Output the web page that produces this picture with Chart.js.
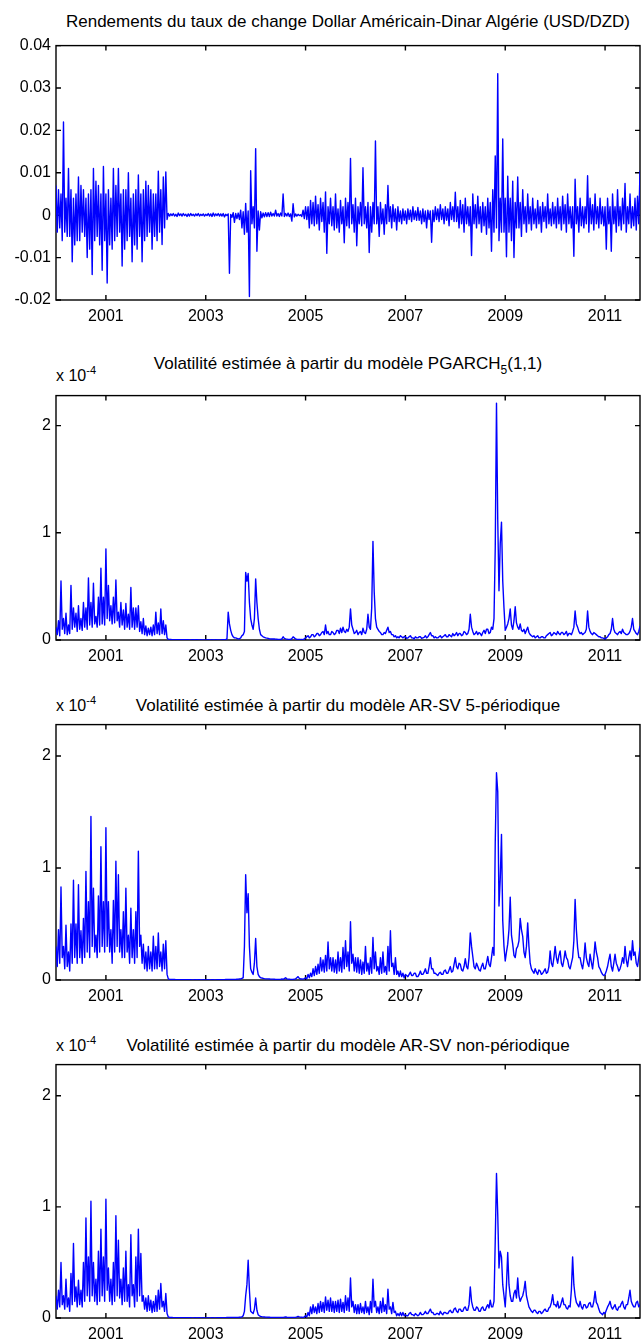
<!DOCTYPE html>
<html lang="fr">
<head>
<meta charset="utf-8">
<title>Rendements et volatilités USD/DZD</title>
<script src="https://cdn.jsdelivr.net/npm/chart.js@4.4.1/dist/chart.umd.min.js"></script>
<style>
  body { margin: 0; background: #fff; width: 642px; height: 1344px; position: relative; overflow: hidden;
         font-family: "Liberation Sans", Arial, sans-serif; color: #000; }
  canvas { position: absolute; left: 0; }
  .titre { position: absolute; left: 56px; width: 584px; text-align: center; font-size: 17px;
           line-height: 20px; white-space: nowrap; }
  .exposant { position: absolute; left: 56px; font-size: 16px; line-height: 18px; white-space: nowrap; }
  .indice { font-size: 12px; position: relative; top: 5px; }
  .puissance { font-size: 11px; position: relative; top: -7px; }
</style>
</head>
<body>

<div class="titre" style="top:12px">Rendements du taux de change Dollar Américain-Dinar Algérie (USD/DZD)</div>
<canvas id="panneau1"></canvas>

<div class="titre" style="top:354px">Volatilité estimée à partir du modèle PGARCH<span class="indice">5</span>(1,1)</div>
<div class="exposant" style="top:367px">x 10<span class="puissance">-4</span></div>
<canvas id="panneau2"></canvas>

<div class="titre" style="top:696px">Volatilité estimée à partir du modèle AR-SV 5-périodique</div>
<div class="exposant" style="top:697px">x 10<span class="puissance">-4</span></div>
<canvas id="panneau3"></canvas>

<div class="titre" style="top:1036px">Volatilité estimée à partir du modèle AR-SV non-périodique</div>
<div class="exposant" style="top:1037px">x 10<span class="puissance">-4</span></div>
<canvas id="panneau4"></canvas>

<script>
// Axe des temps : un point tous les 0.025 an à partir de 2000.000 (40 valeurs par année dans les tableaux)
const DEBUT = 2000.0;
const PAS = 0.025;
const anneesGraduees = [2001, 2003, 2005, 2007, 2009, 2011];
const graduationsRendements = [-0.02, -0.01, 0, 0.01, 0.02, 0.03, 0.04];
const graduationsVolatilite = [0, 1, 2];

// Rendements, une ligne par année
const rendements = [
  0.007, -0.004, 0.006, -0.003, 0.005, -0.006, 0.022, -0.004, 0.004, -0.005, 0.011, -0.005, 0.006, -0.011, 0.004, -0.007, 0.005, -0.006, 0.009, -0.006, 0.007, -0.004, 0.006, -0.005, 0.004, -0.010, 0.005, -0.008, 0.006, -0.014, 0.011, -0.006, 0.008, -0.005, 0.007, -0.007, 0.005, -0.013, 0.0115, -0.006,
  0.005, -0.016, 0.006, -0.007, 0.004, -0.008, 0.011, -0.006, 0.007, -0.005, 0.011, -0.004, 0.005, -0.012, 0.006, -0.008, 0.006, -0.006, 0.010, -0.005, 0.004, -0.011, 0.005, -0.007, 0.006, -0.008, 0.0095, -0.005, 0.005, -0.011, 0.006, -0.006, 0.008, -0.005, 0.007, -0.004, 0.006, -0.008, 0.005, -0.005,
  0.005, -0.006, 0.0104, -0.004, 0.006, -0.0069, 0.009, -0.003, 0.0102, -0.001, 0.0004, -0.0002, 0.0003, -0.0001, 0.0004, -0.0002, 0.0002, -0.0003, 0.0005, -0.0001, 0.0003, -0.0002, 0.0004, -0.0001, 0.0002, -0.0003, 0.0003, -0.0002, 0.0004, -0.0001, 0.0002, -0.0002, 0.0003, -0.0001, 0.0004, -0.0002, 0.0002, -0.0001, 0.0003, -0.0002,
  0.0002, -0.0001, 0.0004, -0.0002, 0.0003, -0.0003, 0.0005, -0.0002, 0.0003, -0.0001, 0.0004, -0.0002, 0.0003, -0.0002, 0.0004, -0.0004, 0.0002, -0.0001, 0.0003, -0.0137, 0.0002, -0.0005, 0.0006, -0.0017, 0.0004, -0.0008, 0.0005, -0.001, 0.0012, -0.003, 0.0008, -0.0045, 0.0028, -0.004, 0.001, -0.0192, 0.0105, -0.002, 0.002, -0.003,
  0.0157, -0.0085, 0.001, -0.0035, 0.0008, -0.0006, 0.0005, -0.0004, 0.0006, -0.0003, 0.0006, -0.0003, 0.0007, -0.0002, 0.0004, -0.0002, 0.0012, -0.0002, 0.0004, -0.0003, 0.0005, -0.0002, 0.005, -0.0003, 0.0004, -0.0002, 0.0005, -0.0003, 0.0003, -0.0014, 0.0027, -0.0004, 0.0003, -0.0002, 0.0002, -0.0001, 0.0001, -0.0003, 0.0012, -0.0008,
  0.002, -0.001, 0.002, -0.003, 0.0035, -0.002, 0.003, -0.0025, 0.0045, -0.002, 0.0025, -0.0035, 0.004, -0.0015, 0.003, -0.004, 0.0055, -0.009, 0.002, -0.002, 0.004, -0.0025, 0.002, -0.0035, 0.005, -0.003, 0.0015, -0.004, 0.0035, -0.002, 0.002, -0.0065, 0.004, -0.0025, 0.003, -0.003, 0.0134, -0.002, 0.0025, -0.004,
  0.004, -0.0072, 0.002, -0.002, 0.003, -0.0025, 0.0112, -0.002, 0.002, -0.003, 0.003, -0.0088, 0.002, -0.004, 0.003, -0.002, 0.0175, -0.002, 0.002, -0.005, 0.003, -0.002, 0.0015, -0.0045, 0.0025, -0.002, 0.007, -0.0015, 0.002, -0.003, 0.0025, -0.0015, 0.0015, -0.0035, 0.002, -0.0015, 0.001, -0.002, 0.0015, -0.0012,
  0.001, -0.002, 0.0015, -0.001, 0.0012, -0.0015, 0.002, -0.001, 0.001, -0.0012, 0.0018, -0.0012, 0.001, -0.002, 0.0015, -0.0015, 0.001, -0.003, 0.0012, -0.001, 0.001, -0.0064, 0.0012, -0.0015, 0.002, -0.001, 0.0015, -0.0015, 0.0025, -0.001, 0.0015, -0.002, 0.002, -0.0012, 0.0015, -0.0025, 0.003, -0.001, 0.002, -0.0015,
  0.0054, -0.0015, 0.002, -0.003, 0.0035, -0.002, 0.0025, -0.004, 0.004, -0.002, 0.002, -0.0025, 0.002, -0.0095, 0.005, -0.002, 0.0025, -0.003, 0.0045, -0.002, 0.002, -0.004, 0.003, -0.0025, 0.002, -0.0045, 0.004, -0.003, 0.003, -0.0085, 0.006, -0.004, 0.014, -0.003, 0.0334, -0.006, 0.004, -0.004, 0.018, -0.004,
  0.004, -0.0098, 0.0092, -0.004, 0.004, -0.006, 0.008, -0.010, 0.003, -0.003, 0.009, -0.003, 0.003, -0.005, 0.006, -0.002, 0.002, -0.004, 0.005, -0.002, 0.002, -0.0035, 0.004, -0.002, 0.0015, -0.003, 0.0035, -0.002, 0.002, -0.004, 0.003, -0.0015, 0.002, -0.003, 0.005, -0.002, 0.0015, -0.0025, 0.003, -0.002,
  0.002, -0.003, 0.004, -0.002, 0.002, -0.0035, 0.0045, -0.002, 0.0025, -0.004, 0.005, -0.002, 0.002, -0.003, 0.002, -0.0097, 0.0085, -0.002, 0.002, -0.004, 0.004, -0.0025, 0.002, -0.003, 0.002, -0.002, 0.0093, -0.004, 0.004, -0.002, 0.0025, -0.0035, 0.005, -0.002, 0.002, -0.003, 0.004, -0.002, 0.002, -0.0025,
  0.002, -0.008, 0.004, -0.002, 0.002, -0.0085, 0.005, -0.002, 0.002, -0.004, 0.006, -0.0025, 0.002, -0.0035, 0.004, -0.002, 0.0075, -0.004, 0.002, -0.002, 0.005, -0.003, 0.002, -0.0025, 0.004, -0.0035, 0.0045, -0.002, 0.0105
];

// Volatilités estimées, en unités de 10^-4
const volPgarch = [
  0.12, 0.05, 0.18, 0.04, 0.55, 0.1, 0.2, 0.06, 0.25, 0.05, 0.14, 0.06, 0.51, 0.1, 0.3, 0.12, 0.25, 0.08, 0.32, 0.1, 0.2, 0.09, 0.35, 0.12, 0.3, 0.1, 0.58, 0.14, 0.35, 0.12, 0.53, 0.15, 0.22, 0.12, 0.4, 0.14, 0.67, 0.15, 0.4, 0.14,
  0.85, 0.2, 0.51, 0.18, 0.32, 0.15, 0.4, 0.16, 0.56, 0.18, 0.26, 0.12, 0.35, 0.14, 0.28, 0.1, 0.34, 0.12, 0.24, 0.1, 0.49, 0.12, 0.3, 0.1, 0.3, 0.12, 0.32, 0.08, 0.17, 0.06, 0.2, 0.05, 0.13, 0.04, 0.11, 0.05, 0.12, 0.04, 0.14, 0.05,
  0.26, 0.06, 0.16, 0.05, 0.29, 0.06, 0.18, 0.05, 0.14, 0.02, 0.005, 0.004, 0.004, 0.003, 0.003, 0.003, 0.003, 0.002, 0.002, 0.002, 0.002, 0.003, 0.003, 0.002, 0.002, 0.002, 0.002, 0.001, 0.001, 0.002, 0.002, 0.001, 0.002, 0.002, 0.001, 0.001, 0.002, 0.001, 0.001, 0.001,
  0.001, 0.001, 0.002, 0.001, 0.001, 0.002, 0.001, 0.001, 0.002, 0.001, 0.001, 0.001, 0.001, 0.002, 0.002, 0.002, 0.003, 0.01, 0.26, 0.15, 0.09, 0.05, 0.03, 0.02, 0.02, 0.015, 0.01, 0.012, 0.02, 0.04, 0.05, 0.08, 0.63, 0.55, 0.62, 0.35, 0.2, 0.14, 0.1, 0.2,
  0.57, 0.35, 0.2, 0.1, 0.05, 0.04, 0.03, 0.025, 0.02, 0.018, 0.015, 0.012, 0.01, 0.01, 0.01, 0.009, 0.008, 0.007, 0.006, 0.005, 0.005, 0.01, 0.03, 0.015, 0.01, 0.008, 0.006, 0.005, 0.005, 0.012, 0.03, 0.02, 0.01, 0.007, 0.005, 0.005, 0.004, 0.006, 0.004, 0.01,
  0.02, 0.03, 0.04, 0.02, 0.03, 0.05, 0.05, 0.03, 0.04, 0.06, 0.06, 0.04, 0.05, 0.07, 0.08, 0.05, 0.14, 0.06, 0.08, 0.05, 0.05, 0.08, 0.07, 0.05, 0.06, 0.09, 0.09, 0.06, 0.11, 0.07, 0.12, 0.08, 0.07, 0.1, 0.08, 0.12, 0.29, 0.14, 0.1, 0.06,
  0.07, 0.09, 0.05, 0.07, 0.08, 0.05, 0.11, 0.07, 0.06, 0.1, 0.24, 0.12, 0.1, 0.3, 0.92, 0.45, 0.2, 0.12, 0.1, 0.08, 0.07, 0.05, 0.05, 0.07, 0.06, 0.09, 0.12, 0.07, 0.08, 0.05, 0.05, 0.03, 0.04, 0.02, 0.03, 0.02, 0.04, 0.03, 0.02, 0.03,
  0.03, 0.015, 0.02, 0.03, 0.04, 0.02, 0.02, 0.01, 0.03, 0.02, 0.02, 0.03, 0.03, 0.015, 0.02, 0.025, 0.04, 0.02, 0.03, 0.05, 0.07, 0.04, 0.04, 0.02, 0.03, 0.02, 0.02, 0.03, 0.04, 0.02, 0.03, 0.04, 0.05, 0.03, 0.03, 0.05, 0.04, 0.03, 0.06, 0.04,
  0.05, 0.07, 0.04, 0.06, 0.06, 0.04, 0.05, 0.08, 0.07, 0.05, 0.06, 0.1, 0.24, 0.12, 0.08, 0.05, 0.06, 0.08, 0.05, 0.07, 0.06, 0.04, 0.07, 0.09, 0.06, 0.1, 0.1, 0.06, 0.07, 0.12, 0.1, 0.2, 0.86, 2.21, 1.12, 0.46, 0.9, 1.1, 0.55, 0.3,
  0.09, 0.12, 0.15, 0.2, 0.29, 0.14, 0.1, 0.18, 0.31, 0.16, 0.12, 0.1, 0.15, 0.09, 0.08, 0.1, 0.06, 0.09, 0.12, 0.07, 0.05, 0.04, 0.03, 0.04, 0.02, 0.03, 0.04, 0.02, 0.02, 0.03, 0.03, 0.02, 0.02, 0.04, 0.05, 0.06, 0.07, 0.04, 0.05, 0.07,
  0.06, 0.05, 0.08, 0.06, 0.05, 0.07, 0.07, 0.05, 0.06, 0.08, 0.04, 0.06, 0.06, 0.05, 0.08, 0.12, 0.27, 0.15, 0.12, 0.08, 0.06, 0.07, 0.05, 0.06, 0.07, 0.1, 0.27, 0.12, 0.08, 0.06, 0.05, 0.07, 0.06, 0.05, 0.04, 0.03, 0.03, 0.02, 0.02, 0.015,
  0.01, 0.02, 0.03, 0.05, 0.06, 0.1, 0.2, 0.1, 0.07, 0.06, 0.05, 0.07, 0.08, 0.06, 0.1, 0.07, 0.06, 0.05, 0.05, 0.06, 0.08, 0.12, 0.2, 0.1, 0.08, 0.06, 0.05, 0.08, 0.13
];

const volSv5 = [
  0.3, 0.12, 0.45, 0.15, 0.83, 0.2, 0.3, 0.1, 0.49, 0.12, 0.25, 0.08, 0.5, 0.15, 0.89, 0.2, 0.5, 0.15, 0.85, 0.2, 0.44, 0.15, 0.55, 0.2, 0.97, 0.25, 0.7, 0.2, 1.46, 0.3, 0.82, 0.25, 0.4, 0.2, 0.75, 0.25, 1.19, 0.3, 0.7, 0.25,
  1.36, 0.3, 0.7, 0.25, 0.45, 0.15, 0.71, 0.25, 1.06, 0.3, 0.94, 0.25, 0.45, 0.2, 0.61, 0.2, 0.82, 0.25, 0.4, 0.15, 0.64, 0.2, 0.45, 0.15, 0.61, 0.2, 1.15, 0.3, 0.4, 0.15, 0.32, 0.1, 0.25, 0.08, 0.3, 0.1, 0.25, 0.08, 0.39, 0.1,
  0.3, 0.1, 0.42, 0.12, 0.25, 0.08, 0.32, 0.1, 0.35, 0.05, 0.01, 0.006, 0.005, 0.004, 0.004, 0.004, 0.003, 0.003, 0.003, 0.002, 0.002, 0.002, 0.003, 0.002, 0.002, 0.002, 0.002, 0.002, 0.002, 0.001, 0.001, 0.002, 0.002, 0.001, 0.002, 0.002, 0.001, 0.001, 0.002, 0.001,
  0.001, 0.001, 0.002, 0.001, 0.001, 0.002, 0.002, 0.001, 0.001, 0.002, 0.002, 0.002, 0.002, 0.003, 0.003, 0.003, 0.004, 0.004, 0.005, 0.005, 0.004, 0.005, 0.006, 0.006, 0.005, 0.007, 0.008, 0.009, 0.01, 0.015, 0.02, 0.3, 0.94, 0.6, 0.77, 0.3, 0.1, 0.07, 0.05, 0.15,
  0.37, 0.12, 0.05, 0.03, 0.02, 0.018, 0.015, 0.012, 0.01, 0.01, 0.01, 0.009, 0.008, 0.008, 0.008, 0.007, 0.006, 0.006, 0.005, 0.005, 0.006, 0.01, 0.005, 0.012, 0.02, 0.01, 0.008, 0.007, 0.006, 0.005, 0.005, 0.008, 0.01, 0.02, 0.03, 0.015, 0.01, 0.009, 0.008, 0.012,
  0.02, 0.01, 0.05, 0.02, 0.06, 0.03, 0.1, 0.04, 0.12, 0.05, 0.14, 0.06, 0.2, 0.08, 0.18, 0.07, 0.22, 0.08, 0.34, 0.1, 0.2, 0.08, 0.2, 0.07, 0.18, 0.06, 0.25, 0.08, 0.2, 0.07, 0.29, 0.1, 0.35, 0.12, 0.25, 0.08, 0.52, 0.15, 0.23, 0.08,
  0.2, 0.07, 0.2, 0.06, 0.18, 0.05, 0.16, 0.06, 0.3, 0.08, 0.15, 0.05, 0.2, 0.06, 0.38, 0.1, 0.25, 0.08, 0.12, 0.05, 0.2, 0.06, 0.25, 0.07, 0.12, 0.05, 0.3, 0.08, 0.44, 0.12, 0.15, 0.05, 0.2, 0.05, 0.08, 0.03, 0.08, 0.03, 0.06, 0.02,
  0.05, 0.04, 0.03, 0.05, 0.07, 0.04, 0.04, 0.06, 0.06, 0.03, 0.03, 0.05, 0.08, 0.05, 0.05, 0.07, 0.1, 0.06, 0.06, 0.12, 0.2, 0.1, 0.1, 0.06, 0.06, 0.05, 0.04, 0.06, 0.07, 0.05, 0.05, 0.08, 0.09, 0.06, 0.06, 0.09, 0.12, 0.07, 0.08, 0.14,
  0.2, 0.12, 0.1, 0.15, 0.14, 0.09, 0.08, 0.12, 0.19, 0.12, 0.1, 0.2, 0.42, 0.3, 0.21, 0.12, 0.1, 0.15, 0.12, 0.09, 0.08, 0.12, 0.15, 0.1, 0.1, 0.15, 0.21, 0.14, 0.12, 0.2, 0.29, 0.22, 1.23, 1.85, 1.68, 0.66, 0.9, 1.3, 0.53, 0.3,
  0.17, 0.25, 0.32, 0.45, 0.74, 0.4, 0.32, 0.22, 0.2, 0.28, 0.3, 0.35, 0.55, 0.45, 0.39, 0.25, 0.2, 0.3, 0.51, 0.3, 0.15, 0.1, 0.08, 0.06, 0.1, 0.07, 0.05, 0.09, 0.08, 0.05, 0.06, 0.08, 0.1, 0.06, 0.07, 0.12, 0.26, 0.15, 0.12, 0.2,
  0.3, 0.2, 0.15, 0.22, 0.26, 0.15, 0.12, 0.18, 0.26, 0.2, 0.18, 0.12, 0.1, 0.15, 0.2, 0.35, 0.72, 0.45, 0.29, 0.2, 0.2, 0.14, 0.1, 0.18, 0.33, 0.2, 0.15, 0.12, 0.23, 0.16, 0.1, 0.2, 0.34, 0.25, 0.2, 0.12, 0.1, 0.07, 0.05, 0.04,
  0.05, 0.08, 0.12, 0.18, 0.23, 0.12, 0.08, 0.15, 0.23, 0.15, 0.12, 0.08, 0.1, 0.14, 0.2, 0.15, 0.3, 0.18, 0.12, 0.2, 0.26, 0.18, 0.35, 0.22, 0.25, 0.15, 0.12, 0.2, 0.29
];

const volSvNonPer = [
  0.2, 0.08, 0.25, 0.1, 0.5, 0.12, 0.2, 0.08, 0.35, 0.1, 0.18, 0.06, 0.4, 0.12, 0.67, 0.15, 0.28, 0.1, 0.34, 0.12, 0.25, 0.1, 0.5, 0.15, 0.9, 0.2, 0.55, 0.15, 1.05, 0.2, 0.5, 0.15, 0.35, 0.12, 0.6, 0.15, 0.8, 0.2, 0.55, 0.15,
  1.07, 0.25, 0.45, 0.15, 0.35, 0.12, 0.5, 0.15, 0.92, 0.2, 0.7, 0.18, 0.35, 0.12, 0.45, 0.15, 0.6, 0.15, 0.3, 0.1, 0.75, 0.2, 0.3, 0.1, 0.55, 0.15, 0.8, 0.2, 0.58, 0.15, 0.2, 0.08, 0.18, 0.06, 0.2, 0.07, 0.16, 0.05, 0.15, 0.06,
  0.2, 0.06, 0.25, 0.08, 0.31, 0.1, 0.15, 0.06, 0.22, 0.04, 0.01, 0.005, 0.004, 0.004, 0.003, 0.003, 0.003, 0.002, 0.002, 0.002, 0.002, 0.003, 0.003, 0.002, 0.002, 0.002, 0.002, 0.002, 0.002, 0.001, 0.001, 0.002, 0.002, 0.001, 0.002, 0.002, 0.001, 0.001, 0.002, 0.001,
  0.001, 0.001, 0.002, 0.001, 0.001, 0.002, 0.002, 0.001, 0.001, 0.002, 0.002, 0.002, 0.002, 0.003, 0.003, 0.003, 0.003, 0.004, 0.004, 0.004, 0.004, 0.005, 0.005, 0.005, 0.005, 0.006, 0.006, 0.007, 0.008, 0.01, 0.02, 0.06, 0.2, 0.3, 0.52, 0.25, 0.06, 0.05, 0.04, 0.08,
  0.18, 0.07, 0.03, 0.02, 0.015, 0.012, 0.01, 0.009, 0.008, 0.008, 0.007, 0.007, 0.006, 0.006, 0.006, 0.005, 0.005, 0.005, 0.005, 0.005, 0.005, 0.006, 0.004, 0.008, 0.01, 0.007, 0.006, 0.005, 0.005, 0.004, 0.004, 0.005, 0.006, 0.01, 0.015, 0.01, 0.008, 0.007, 0.006, 0.01,
  0.02, 0.01, 0.05, 0.02, 0.1, 0.04, 0.12, 0.05, 0.1, 0.04, 0.13, 0.05, 0.15, 0.06, 0.14, 0.05, 0.19, 0.07, 0.16, 0.06, 0.18, 0.06, 0.15, 0.05, 0.15, 0.06, 0.16, 0.05, 0.17, 0.06, 0.14, 0.05, 0.2, 0.07, 0.18, 0.06, 0.36, 0.1, 0.15, 0.05,
  0.12, 0.04, 0.12, 0.04, 0.13, 0.05, 0.1, 0.04, 0.15, 0.05, 0.1, 0.03, 0.15, 0.05, 0.35, 0.1, 0.15, 0.05, 0.1, 0.04, 0.15, 0.05, 0.18, 0.06, 0.12, 0.04, 0.26, 0.08, 0.1, 0.04, 0.14, 0.05, 0.06, 0.02, 0.04, 0.02, 0.05, 0.02, 0.05, 0.02,
  0.03, 0.02, 0.02, 0.04, 0.05, 0.03, 0.03, 0.02, 0.04, 0.03, 0.02, 0.03, 0.05, 0.03, 0.03, 0.04, 0.06, 0.04, 0.04, 0.06, 0.08, 0.05, 0.05, 0.03, 0.03, 0.04, 0.04, 0.03, 0.06, 0.04, 0.03, 0.05, 0.05, 0.04, 0.04, 0.06, 0.07, 0.05, 0.05, 0.08,
  0.09, 0.06, 0.05, 0.08, 0.08, 0.06, 0.06, 0.09, 0.1, 0.07, 0.07, 0.12, 0.28, 0.15, 0.1, 0.07, 0.07, 0.1, 0.09, 0.06, 0.06, 0.09, 0.1, 0.07, 0.07, 0.1, 0.12, 0.09, 0.16, 0.1, 0.1, 0.15, 0.7, 1.3, 0.93, 0.45, 0.6, 0.55, 0.3, 0.2,
  0.1, 0.3, 0.59, 0.3, 0.2, 0.15, 0.15, 0.22, 0.25, 0.18, 0.36, 0.2, 0.15, 0.18, 0.2, 0.25, 0.33, 0.2, 0.15, 0.1, 0.08, 0.06, 0.05, 0.07, 0.07, 0.05, 0.04, 0.06, 0.06, 0.04, 0.05, 0.07, 0.08, 0.06, 0.06, 0.09, 0.1, 0.14, 0.21, 0.12,
  0.12, 0.1, 0.15, 0.09, 0.1, 0.14, 0.18, 0.12, 0.12, 0.09, 0.08, 0.11, 0.1, 0.25, 0.55, 0.3, 0.2, 0.14, 0.12, 0.1, 0.15, 0.1, 0.08, 0.12, 0.12, 0.09, 0.1, 0.13, 0.14, 0.1, 0.1, 0.15, 0.24, 0.14, 0.12, 0.08, 0.05, 0.04, 0.03, 0.05,
  0.04, 0.07, 0.1, 0.12, 0.15, 0.1, 0.08, 0.1, 0.12, 0.08, 0.07, 0.1, 0.1, 0.13, 0.15, 0.1, 0.08, 0.12, 0.12, 0.18, 0.25, 0.15, 0.12, 0.1, 0.1, 0.14, 0.15, 0.1, 0.12
];

const dates = rendements.map((_, i) => DEBUT + i * PAS);

// Mise en page (pixels de la page)
const MARGE_HAUT = 12;
const HAUTEUR_AXE_X = 34;
const LARGEUR_AXE_Y = 56;
const POLICE = { family: '"Liberation Sans", Arial, sans-serif', size: 16 };


// Cadre façon MATLAB : boîte complète et graduations tournées vers l'intérieur sur les quatre côtés
const cadreMatlab = {
    id: 'cadreMatlab',
    beforeDatasetsDraw(chart) {
        const { ctx, chartArea: a, scales: { x, y } } = chart;
        const longueur = 5;
        ctx.save();
        ctx.strokeStyle = '#000';
        ctx.lineWidth = 1.4;
        ctx.strokeRect(a.left, a.top, a.right - a.left, a.bottom - a.top);
        ctx.beginPath();
        x.ticks.forEach(t => {
            const px = x.getPixelForValue(t.value);
            ctx.moveTo(px, a.bottom); ctx.lineTo(px, a.bottom - longueur);
            ctx.moveTo(px, a.top); ctx.lineTo(px, a.top + longueur);
        });
        y.ticks.forEach(t => {
            const py = y.getPixelForValue(t.value);
            ctx.moveTo(a.left, py); ctx.lineTo(a.left + longueur, py);
            ctx.moveTo(a.right, py); ctx.lineTo(a.right - longueur, py);
        });
        ctx.stroke();
        ctx.restore();
    }
};


function creerPanneau(id, haut, bas, valeurs, yMin, yMax, graduationsY) {
    /**
     * @param {string} id - identifiant du canvas
     * @param {number} haut - ordonnée (page) du haut de la zone de tracé
     * @param {number} bas - ordonnée (page) du bas de la zone de tracé
     * @param {number[]} valeurs - la série à tracer
     */
    const canvas = document.getElementById(id);
    canvas.width = 642;
    canvas.height = (bas - haut) + MARGE_HAUT + HAUTEUR_AXE_X;
    canvas.style.top = (haut - MARGE_HAUT) + 'px';

    new Chart(canvas, {
        type: 'line',
        data: {
            datasets: [{
                data: dates.map((d, i) => ({ x: d, y: valeurs[i] })),
                borderColor: '#0000ff',
                borderWidth: 1.4,
                borderJoinStyle: 'round',
                pointRadius: 0,
                tension: 0,
            }],
        },
        options: {
            responsive: false,
            animation: false,
            devicePixelRatio: 1,
            events: [],
            layout: { autoPadding: false, padding: { top: MARGE_HAUT, right: 2, bottom: 0, left: 0 } },
            plugins: { legend: { display: false }, tooltip: { enabled: false } },
            scales: {
                x: {
                    type: 'linear',
                    min: 2000,
                    max: 2011.7,
                    grid: { display: false, drawTicks: false },
                    border: { display: false },
                    afterBuildTicks: s => { s.ticks = anneesGraduees.map(v => ({ value: v })); },
                    afterFit: s => { s.height = HAUTEUR_AXE_X; },
                    ticks: { font: POLICE, color: '#000', padding: 7, maxRotation: 0, autoSkip: false,
                             callback: v => String(v) },
                },
                y: {
                    type: 'linear',
                    min: yMin,
                    max: yMax,
                    grid: { display: false, drawTicks: false },
                    border: { display: false },
                    afterBuildTicks: s => { s.ticks = graduationsY.map(v => ({ value: v })); },
                    afterFit: s => { s.width = LARGEUR_AXE_Y; },
                    ticks: { font: POLICE, color: '#000', padding: 5, callback: v => String(v) },
                },
            },
        },
        plugins: [cadreMatlab],
    });
}


creerPanneau('panneau1', 43, 300, rendements, -0.02, 0.04, graduationsRendements);
creerPanneau('panneau2', 393, 640, volPgarch, 0, 2.28, graduationsVolatilite);
creerPanneau('panneau3', 722, 980, volSv5, 0, 2.28, graduationsVolatilite);
creerPanneau('panneau4', 1062, 1318, volSvNonPer, 0, 2.28, graduationsVolatilite);
</script>
</body>
</html>
